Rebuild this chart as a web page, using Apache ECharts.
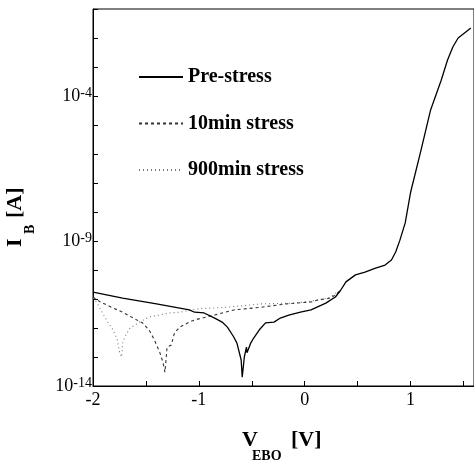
<!DOCTYPE html>
<html>
<head>
<meta charset="utf-8">
<script src="https://cdn.jsdelivr.net/npm/echarts@6/dist/echarts.min.js"></script>
<style>
html,body{margin:0;padding:0;background:#fff;}
#chart{width:474px;height:464px;}
</style>
</head>
<body>
<div id="chart"></div>
<script>
// ---- data (V_EBO in volts, I_B in amperes) ----
const seriesNames = ['Pre-stress', '10min stress', '900min stress'];

const preV = [-2.0, -1.72, -1.40, -1.09, -1.04, -0.95, -0.85, -0.78, -0.73, -0.67, -0.64, -0.60, -0.59, -0.57, -0.55, -0.545, -0.51, -0.48, -0.43, -0.37, -0.29, -0.23, -0.15, -0.04, 0.06, 0.20, 0.29, 0.34, 0.39, 0.48, 0.57, 0.67, 0.76, 0.82, 0.86, 0.90, 0.95, 1.00, 1.10, 1.19, 1.29, 1.35, 1.40, 1.45, 1.57];
const preI = [1.74e-11, 1.07e-11, 6.8e-12, 4.2e-12, 3.5e-12, 3.3e-12, 2.2e-12, 1.6e-12, 1.07e-12, 4.9e-13, 3.0e-13, 7.9e-14, 2.0e-14, 1.0e-13, 2.2e-13, 1.4e-13, 3.0e-13, 4.6e-13, 8.5e-13, 1.5e-12, 1.6e-12, 2.2e-12, 2.8e-12, 3.5e-12, 4.2e-12, 7.2e-12, 1.17e-11, 2.0e-11, 3.9e-11, 6.8e-11, 8.5e-11, 1.17e-10, 1.48e-10, 2.2e-10, 4.2e-10, 1.07e-9, 4.2e-9, 4.6e-8, 1.38e-6, 3.3e-5, 3.5e-4, 1.74e-3, 4.9e-3, 1.0e-2, 2.2e-2];

const tenV = [-2.0, -1.93, -1.81, -1.72, -1.62, -1.53, -1.47, -1.42, -1.37, -1.34, -1.32, -1.30, -1.26, -1.23, -1.18, -1.09, -1.04, -0.85, -0.67, -0.41, -0.17, 0.06, 0.13, 0.25, 0.34];
const tenI = [1.17e-11, 7.9e-12, 4.9e-12, 3.5e-12, 2.2e-12, 1.48e-12, 8.5e-13, 3.9e-13, 1.48e-13, 6.8e-14, 3.0e-14, 2.2e-13, 2.6e-13, 6.8e-13, 1.07e-12, 1.6e-12, 1.9e-12, 2.8e-12, 4.2e-12, 5.2e-12, 6.8e-12, 7.9e-12, 9.3e-12, 1.07e-11, 2.0e-11];

const nineV = [-2.0, -1.96, -1.91, -1.86, -1.81, -1.77, -1.75, -1.73, -1.72, -1.70, -1.65, -1.56, -1.47, -1.37, -1.28, -1.18, -1.00, -0.73, -0.41, -0.10, 0.06, 0.22, 0.34];
const nineI = [1.07e-11, 7.2e-12, 3.3e-12, 1.6e-12, 8.5e-13, 3.9e-13, 1.48e-13, 1.0e-13, 3.0e-13, 4.9e-13, 1.0e-12, 1.6e-12, 2.4e-12, 2.8e-12, 3.3e-12, 3.5e-12, 4.6e-12, 5.2e-12, 6.8e-12, 7.2e-12, 8.5e-12, 1.07e-11, 2.0e-11];

// ---- axis ticks / labels ----
const xTickValues = [-2, -1.5, -1, -0.5, 0, 0.5, 1, 1.5];
const xLabelValues = [-2, -1, 0, 1];
const yTickValues = [1e-14, 1e-13, 1e-12, 1e-11, 1e-10, 1e-9, 1e-8, 1e-7, 1e-6, 1e-5, 1e-4, 1e-3, 1e-2, 1e-1];
const yLabelValues = [1e-14, 1e-9, 1e-4];

function zip(xs, ys) { return xs.map((x, i) => [x, ys[i]]); }

const serif = '"Liberation Serif", "Times New Roman", serif';

const chart = echarts.init(document.getElementById('chart'), null, {renderer: 'canvas'});
chart.setOption({
  animation: false,
  backgroundColor: '#fff',
  grid: {left: 93, top: 9, width: 383.4, height: 377, show: true, borderColor: '#000', borderWidth: 1, containLabel: false},
  legend: {
    orient: 'vertical', left: 133, top: 62,
    itemWidth: 44, itemHeight: 20, itemGap: 26.5,
    itemStyle: {opacity: 0},
    data: seriesNames,
    textStyle: {fontFamily: serif, fontWeight: 'bold', fontSize: 20, color: '#000', lineHeight: 20}
  },
  xAxis: {
    type: 'value', min: -2, max: 1.6,
    axisLine: {onZero: false, lineStyle: {color: '#000', width: 1}},
    axisTick: {inside: true, length: 5, customValues: xTickValues, lineStyle: {color: '#000'}},
    axisLabel: {customValues: xLabelValues, margin: 5, fontFamily: serif, fontSize: 18, color: '#000',
      formatter: v => String(v)},
    splitLine: {show: false}
  },
  yAxis: {
    type: 'log', logBase: 10, min: 1e-14, max: 1e-1,
    axisLine: {show: true, onZero: false, lineStyle: {color: '#000', width: 1}},
    axisTick: {show: true, inside: true, length: 5, customValues: yTickValues, lineStyle: {color: '#000'}},
    axisLabel: {customValues: yLabelValues, margin: 1, color: '#000',
      formatter: v => '{b|10}{s|' + Math.round(Math.log10(v)) + '}',
      rich: {
        b: {fontFamily: serif, fontSize: 18, color: '#000'},
        s: {fontFamily: serif, fontSize: 14, color: '#000', verticalAlign: 'top', padding: [0, 0, 6, 0]}
      }},
    splitLine: {show: false}
  },
  series: [
    {name: seriesNames[0], type: 'line', data: zip(preV, preI), symbol: 'none', z: 5,
      lineStyle: {color: '#000', width: 1.3, type: 'solid'}, itemStyle: {color: '#000'}},
    {name: seriesNames[1], type: 'line', data: zip(tenV, tenI), symbol: 'none', z: 3,
      lineStyle: {color: '#333', width: 1.1, type: [3, 3]}, itemStyle: {color: '#333'}},
    {name: seriesNames[2], type: 'line', data: zip(nineV, nineI), symbol: 'none', z: 2,
      lineStyle: {color: '#777', width: 1.1, type: [1, 3]}, itemStyle: {color: '#777'}}
  ],
  graphic: [
    {type: 'text', x: 242, y: 440, style: {text: 'V', font: 'bold 22px ' + serif, fill: '#000', textAlign: 'left', textVerticalAlign: 'middle'}},
    {type: 'text', x: 252, y: 456, style: {text: 'EBO', font: 'bold 14px ' + serif, fill: '#000', textAlign: 'left', textVerticalAlign: 'middle'}},
    {type: 'text', x: 291, y: 440, style: {text: '[V]', font: 'bold 22px ' + serif, fill: '#000', textAlign: 'left', textVerticalAlign: 'middle'}},
    {type: 'text', x: 15, y: 247, rotation: Math.PI / 2, style: {text: 'I', font: 'bold 22px ' + serif, fill: '#000', textAlign: 'left', textVerticalAlign: 'middle'}},
    {type: 'text', x: 30, y: 234, rotation: Math.PI / 2, style: {text: 'B', font: 'bold 14px ' + serif, fill: '#000', textAlign: 'left', textVerticalAlign: 'middle'}},
    {type: 'text', x: 15, y: 218, rotation: Math.PI / 2, style: {text: '[A]', font: 'bold 22px ' + serif, fill: '#000', textAlign: 'left', textVerticalAlign: 'middle'}}
  ]
});
</script>
</body>
</html>
